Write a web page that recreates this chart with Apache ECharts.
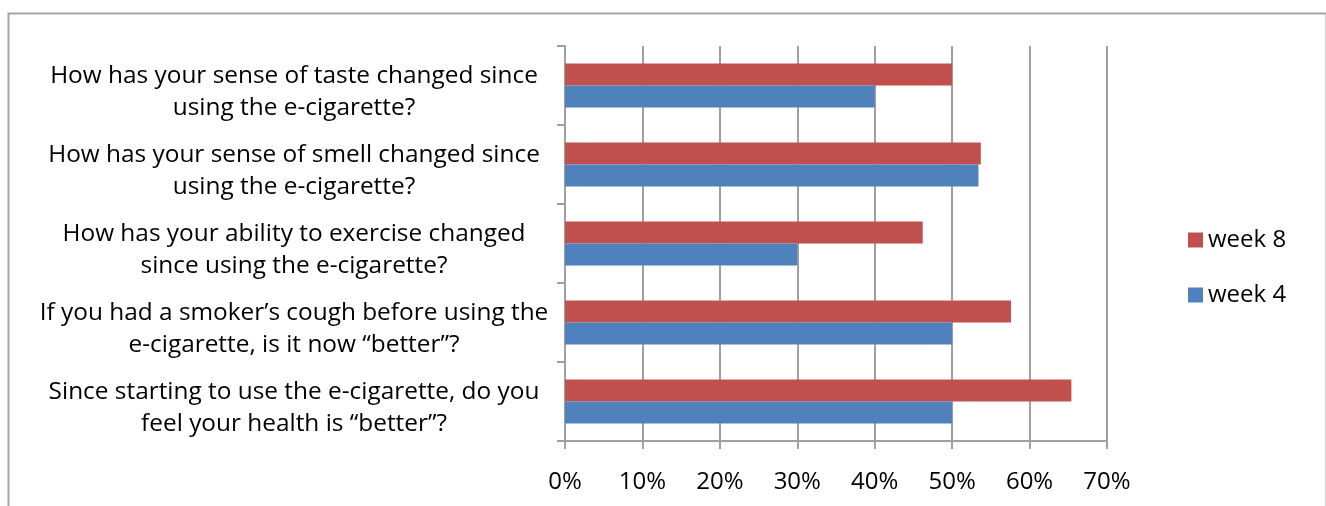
<!DOCTYPE html>
<html><head><meta charset="utf-8">
<script src="https://cdn.jsdelivr.net/npm/echarts@6/dist/echarts.min.js"></script>
<style>html,body{margin:0;padding:0;background:#fff}#c{width:1326px;height:506px}</style>
</head><body><div id="c"></div>
<script>
const categories = [
  "How has your sense of taste changed since\nusing the e-cigarette?",
  "How has your sense of smell changed since\nusing the e-cigarette?",
  "How has your ability to exercise changed\nsince using the e-cigarette?",
  "If you had a smoker\u2019s cough before using the\ne-cigarette, is it now \u201cbetter\u201d?",
  "Since starting to use the e-cigarette, do you\nfeel your health is \u201cbetter\u201d?"
];
const week8 = [50, 53.7, 46.2, 57.6, 65.4];
const week4 = [40, 53.4, 30, 50, 50];
const seriesNames = ["week 8", "week 4"];
const xTicks = [0, 10, 20, 30, 40, 50, 60, 70];

const font = '"Open Sans", sans-serif';
const chart = echarts.init(document.getElementById('c'), null, {renderer: 'canvas'});
chart.setOption({
  animation: false,
  backgroundColor: '#fff',
  graphic: [{
    type: 'rect', left: 6, top: 11,
    shape: {width: 1318, height: 520},
    style: {fill: 'none', stroke: '#a6a6a6', lineWidth: 2}
  }],
  grid: {left: 565, right: 219, top: 46, bottom: 65, containLabel: false},
  legend: {
    data: seriesNames, orient: 'vertical', left: 1183, top: 223,
    itemWidth: 15, itemHeight: 15, itemGap: 31, icon: 'rect',
    textStyle: {fontFamily: font, fontSize: 24, color: '#000'}
  },
  xAxis: {
    type: 'value', min: xTicks[0], max: xTicks[xTicks.length - 1], interval: 10,
    axisLine: {show: true, lineStyle: {color: '#a0a0a0', width: 2}},
    axisTick: {show: true, length: 8, lineStyle: {color: '#a0a0a0', width: 2}},
    splitLine: {show: true, lineStyle: {color: '#a0a0a0', width: 2}},
    axisLabel: {formatter: '{value}%', margin: 29, fontFamily: font, fontSize: 24, color: '#000'}
  },
  yAxis: {
    type: 'category', data: categories, inverse: true,
    axisLine: {show: true, lineStyle: {color: '#a0a0a0', width: 2}},
    axisTick: {show: true, length: 8, lineStyle: {color: '#a0a0a0', width: 2}},
    axisLabel: {
      align: 'center', margin: 271, fontFamily: font, fontSize: 24.4, lineHeight: 32, color: '#000',
      formatter: function (v) {
        return '{s|}\n' + v.split('\n').map(function (l) { return '{t|' + l + '}'; }).join('\n');
      },
      rich: {
        s: {lineHeight: 14, fontSize: 8, align: 'center'},
        t: {fontFamily: font, fontSize: 24.4, lineHeight: 32, color: '#000', align: 'center'}
      }
    }
  },
  series: [
    {name: seriesNames[0], type: 'bar', data: week8, barGap: '0%', barCategoryGap: '44%',
     itemStyle: {color: '#C0504D'}},
    {name: seriesNames[1], type: 'bar', data: week4, barGap: '0%', barCategoryGap: '44%',
     itemStyle: {color: '#4F81BD'}}
  ]
});
</script></body></html>
